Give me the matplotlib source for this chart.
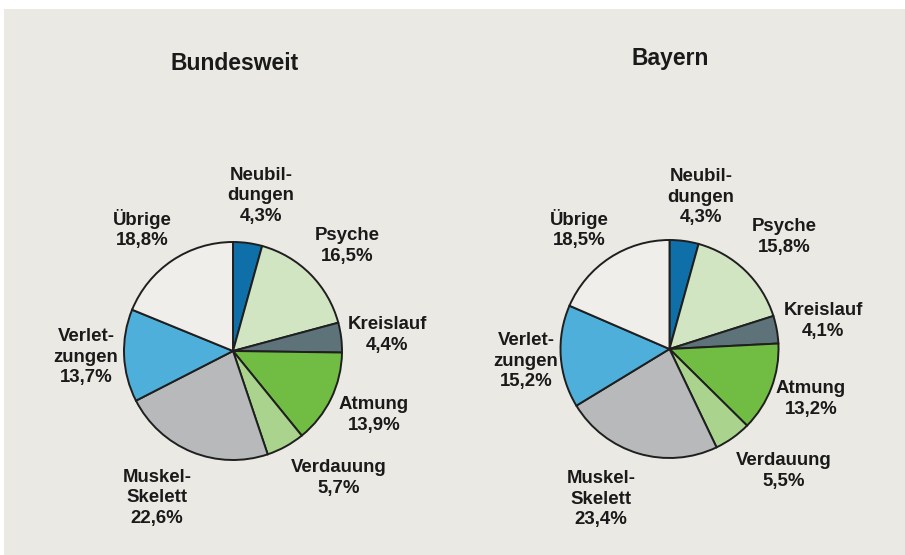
import matplotlib
matplotlib.use("Agg")
import matplotlib.pyplot as plt
from matplotlib.patches import Rectangle

# Daten
kategorien = ["Neubil-\ndungen", "Psyche", "Kreislauf", "Atmung", "Verdauung",
              "Muskel-\nSkelett", "Verlet-\nzungen", "Übrige"]
bundesweit = [4.3, 16.5, 4.4, 13.9, 5.7, 22.6, 13.7, 18.8]
bayern = [4.3, 15.8, 4.1, 13.2, 5.5, 23.4, 15.2, 18.5]
farben = ["#0F6FA8", "#D2E5C3", "#5E727A", "#71BD44", "#AAD48E",
          "#B8B9BB", "#4EAFDA", "#EFEEEA"]

# Layout (Pixel im Bild, y von oben)
W, H = 905, 555
pies = [
    ("Bundesweit", bundesweit, (233, 351), (235, 63),
     [(261, 196), (347, 246), (387, 335), (374, 415), (339, 478),
      (157, 498), (86, 357), (142, 229)]),
    ("Bayern", bayern, (669.5, 349), (670, 58),
     [(701, 197), (784, 237), (823, 321), (811, 399), (784, 471),
      (601, 499), (526, 361), (579, 229)]),
]
R = 109

fig = plt.figure(figsize=(W / 100, H / 100), dpi=100, facecolor="white")
ax = fig.add_axes([0, 0, 1, 1])
ax.add_patch(Rectangle((4, 0), W, H - 9, facecolor="#EBE9E4",
                       edgecolor="none", zorder=0))

txt = dict(fontfamily="Liberation Sans", fontweight="bold", color="#1a1a1a",
           ha="center", va="center", linespacing=1.28)

for titel, werte, (cx, cy), (tx, ty), lpos in pies:
    ax.pie(werte, colors=farben, startangle=90, counterclock=False,
           center=(cx, H - cy), radius=R,
           wedgeprops=dict(edgecolor="#1f1f1f", linewidth=1.4, zorder=2))
    ax.text(tx, H - ty, titel, fontsize=16.5, **txt)
    for name, wert, (lx, ly) in zip(kategorien, werte, lpos):
        label = name + "\n" + f"{wert:.1f}".replace(".", ",") + "%"
        ax.text(lx, H - ly, label, fontsize=13.4, **txt)

ax.set_xlim(0, W)
ax.set_ylim(0, H)
ax.set_aspect("equal")
ax.axis("off")

fig.savefig("out.png", dpi=100, facecolor="white")
